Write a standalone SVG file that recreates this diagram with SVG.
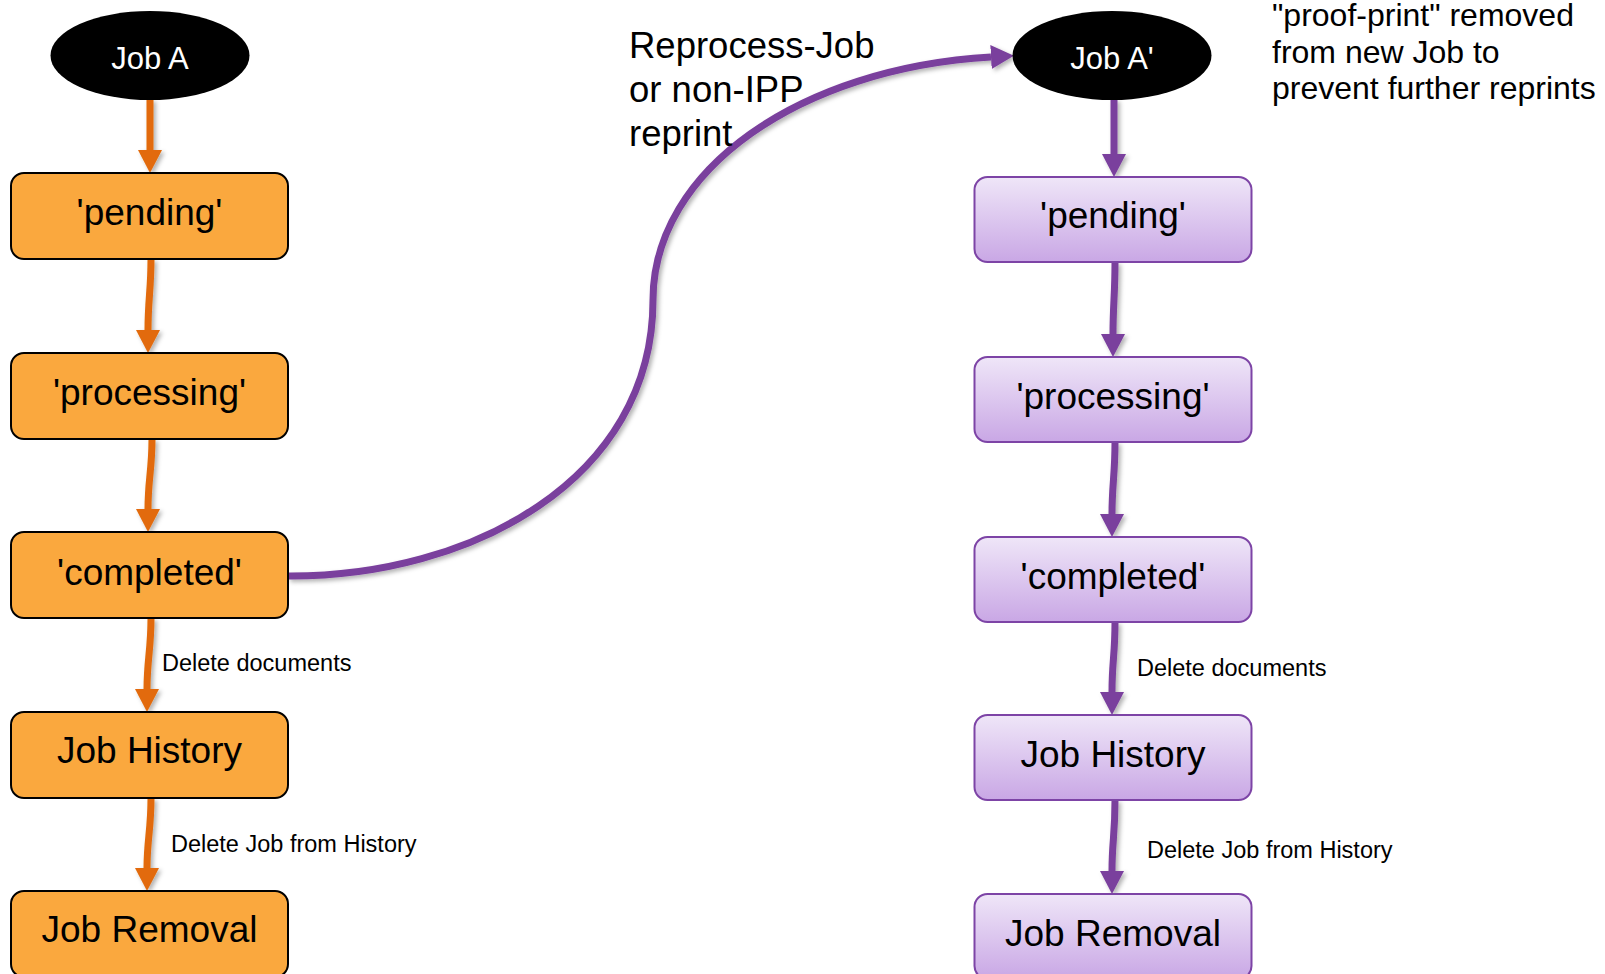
<svg xmlns="http://www.w3.org/2000/svg" width="1605" height="974" viewBox="0 0 1605 974">
<style>
  .txt { font-family: "Liberation Sans", Arial, sans-serif; fill: #000; }
  .box { font-size: 37px; text-anchor: middle; }
  .job { font-size: 31px; text-anchor: middle; fill: #fff; }
  .lbl { font-size: 23.5px; }
  .note { font-size: 36.5px; }
  .note2 { font-size: 32px; }
  .orangeBox { fill: #FAA83E; stroke: #000; stroke-width: 2; }
  .purpleBox { fill: url(#pg); stroke: #7D44A6; stroke-width: 2; }
  .oa { fill: none; stroke: #E26B0A; stroke-width: 7; marker-end: url(#ao); }
  .pa { fill: none; stroke: #7A3F9D; stroke-width: 7; marker-end: url(#ap); }
</style>
<defs>
  <linearGradient id="pg" x1="0" y1="0" x2="0" y2="1">
    <stop offset="0" stop-color="#EFE6F8"/>
    <stop offset="1" stop-color="#C9A7E5"/>
  </linearGradient>
  <filter id="sh" filterUnits="userSpaceOnUse" x="0" y="0" width="1605" height="974">
    <feDropShadow dx="2.5" dy="2.5" stdDeviation="2" flood-color="#000" flood-opacity="0.3"/>
  </filter>
  <marker id="ao" markerUnits="userSpaceOnUse" viewBox="0 0 23 24" markerWidth="23" markerHeight="24" refX="0" refY="12" orient="auto">
    <path d="M0,0 L23,12 L0,24 z" fill="#E26B0A"/>
  </marker>
  <marker id="ap" markerUnits="userSpaceOnUse" viewBox="0 0 23 24" markerWidth="23" markerHeight="24" refX="0" refY="12" orient="auto">
    <path d="M0,0 L23,12 L0,24 z" fill="#7A3F9D"/>
  </marker>
</defs>

<g id="connectors" filter="url(#sh)">
  <path class="oa" d="M150,99 L150,150"/>
  <path class="oa" d="M151,259 C151,290 148,300 148,330"/>
  <path class="oa" d="M152,439 C152,470 148,480 148,509"/>
  <path class="oa" d="M151,618 C151,650 147,660 147,689"/>
  <path class="oa" d="M151,798 C151,830 147,840 147,868"/>

  <path class="pa" d="M1114,99 L1114,154"/>
  <path class="pa" d="M1115,262 C1115,295 1113,305 1113,334"/>
  <path class="pa" d="M1115,442 C1115,475 1112,485 1112,514"/>
  <path class="pa" d="M1115,622 C1115,655 1112,662 1112,692"/>
  <path class="pa" d="M1115,800 C1115,835 1112,842 1112,871"/>

  <path class="pa" d="M288,576 C470,577 653,480 653,300 C653,170 800,68 991,57"/>
</g>

<g id="jobA">
  <ellipse cx="150" cy="55.5" rx="99.5" ry="44.5" fill="#000"/>
  <text class="txt job" x="150" y="69">Job A</text>
</g>
<g id="pendingA">
  <rect class="orangeBox" x="11" y="173" width="277" height="86" rx="13"/>
  <text class="txt box" x="149.5" y="225">'pending'</text>
</g>
<g id="processingA">
  <rect class="orangeBox" x="11" y="353" width="277" height="86" rx="13"/>
  <text class="txt box" x="149.5" y="405">'processing'</text>
</g>
<g id="completedA">
  <rect class="orangeBox" x="11" y="532" width="277" height="86" rx="13"/>
  <text class="txt box" x="149.5" y="585">'completed'</text>
</g>
<g id="historyA">
  <rect class="orangeBox" x="11" y="712" width="277" height="86" rx="13"/>
  <text class="txt box" x="149.5" y="763">Job History</text>
</g>
<g id="removalA">
  <rect class="orangeBox" x="11" y="891" width="277" height="86" rx="13"/>
  <text class="txt box" x="149.5" y="942">Job Removal</text>
</g>

<g id="jobA2">
  <ellipse cx="1112" cy="55.5" rx="99.5" ry="44.5" fill="#000"/>
  <text class="txt job" x="1112" y="69">Job A'</text>
</g>
<g id="pendingA2">
  <rect class="purpleBox" x="974.5" y="177" width="277" height="85" rx="13"/>
  <text class="txt box" x="1113" y="228">'pending'</text>
</g>
<g id="processingA2">
  <rect class="purpleBox" x="974.5" y="357" width="277" height="85" rx="13"/>
  <text class="txt box" x="1113" y="409">'processing'</text>
</g>
<g id="completedA2">
  <rect class="purpleBox" x="974.5" y="537" width="277" height="85" rx="13"/>
  <text class="txt box" x="1113" y="589">'completed'</text>
</g>
<g id="historyA2">
  <rect class="purpleBox" x="974.5" y="715" width="277" height="85" rx="13"/>
  <text class="txt box" x="1113" y="767">Job History</text>
</g>
<g id="removalA2">
  <rect class="purpleBox" x="974.5" y="894" width="277" height="85" rx="13"/>
  <text class="txt box" x="1113" y="946">Job Removal</text>
</g>

<g id="labels">
  <text class="txt lbl" x="162" y="671">Delete documents</text>
  <text class="txt lbl" x="171" y="852">Delete Job from History</text>
  <text class="txt lbl" x="1137" y="676">Delete documents</text>
  <text class="txt lbl" x="1147" y="858">Delete Job from History</text>
  <text class="txt note" x="629" y="58">Reprocess-Job</text>
  <text class="txt note" x="629" y="102">or non-IPP</text>
  <text class="txt note" x="629" y="146">reprint</text>
  <text class="txt note2" x="1272" y="26">"proof-print" removed</text>
  <text class="txt note2" x="1272" y="63">from new Job to</text>
  <text class="txt note2" x="1272" y="99">prevent further reprints</text>
</g>
</svg>
